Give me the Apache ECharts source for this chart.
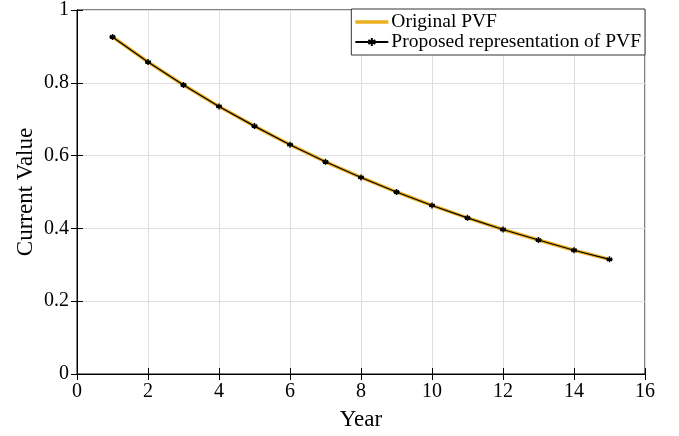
<!DOCTYPE html>
<html><head><meta charset="utf-8">
<script src="https://cdn.jsdelivr.net/npm/echarts@6/dist/echarts.min.js"></script>
<style>html,body{margin:0;padding:0;background:#fff}#c{width:679px;height:436px}</style>
</head><body><div id="c"></div>
<script>
const years = [1,2,3,4,5,6,7,8,9,10,11,12,13,14,15];
const originalPVF = [0.926,0.857,0.794,0.735,0.681,0.630,0.583,0.540,0.500,0.463,0.429,0.397,0.368,0.340,0.315];
const proposedPVF = [0.926,0.857,0.794,0.735,0.681,0.630,0.583,0.540,0.500,0.463,0.429,0.397,0.368,0.340,0.315];
const seriesNames = ['Original PVF','Proposed representation of PVF'];
const font = 'Liberation Serif';
const chart = echarts.init(document.getElementById('c'));
const star = 'path://M0,-1L0,1M-0.87,-0.5L0.87,0.5M-0.87,0.5L0.87,-0.5M-1,0L1,0';
chart.setOption({
  animation:false,
  grid:{left:77,right:34,top:9,bottom:62,show:true,borderColor:'#000',borderWidth:1,containLabel:false},
  legend:{
    right:34, top:9, orient:'vertical', itemGap:0, itemWidth:33, itemHeight:10,
    padding:[3,4,3,3], borderColor:'#333', borderWidth:1, backgroundColor:'#fff',
    textStyle:{fontFamily:font,fontSize:19.5,lineHeight:20,color:'#000',padding:[0,0,0,-2]},
    data:[{name:seriesNames[0],icon:'path://M0,0H36V4H0Z'},{name:seriesNames[1]}]
  },
  xAxis:[{
    type:'value', min:0, max:16, interval:2, name:'Year', nameLocation:'middle', nameGap:34,
    nameMoveOverlap:false,
    nameTextStyle:{fontFamily:font,fontSize:23,color:'#000'},
    axisLine:{show:true,lineStyle:{color:'#000'}},
    axisTick:{show:true,inside:true,length:6,lineStyle:{color:'#000'}},
    axisLabel:{fontFamily:font,fontSize:20,color:'#000',margin:8},
    splitLine:{show:true,lineStyle:{color:'#dedede'}}
  },{
    type:'value', position:'top', min:0, max:16, interval:2,
    axisLine:{show:true,lineStyle:{color:'#000'}},
    axisTick:{show:true,inside:true,length:6,lineStyle:{color:'#000'}},
    axisLabel:{show:false}, splitLine:{show:false}
  }],
  yAxis:[{
    type:'value', min:0, max:1, interval:0.2, name:'Current Value', nameLocation:'middle', nameGap:40,
    nameMoveOverlap:false,
    nameTextStyle:{fontFamily:font,fontSize:23,color:'#000'},
    axisLine:{show:true,lineStyle:{color:'#000'}},
    axisTick:{show:true,inside:true,length:6,lineStyle:{color:'#000'}},
    axisLabel:{fontFamily:font,fontSize:20,color:'#000',margin:8,formatter:v=>String(+v.toFixed(1))},
    splitLine:{show:true,lineStyle:{color:'#dedede'}}
  },{
    type:'value', position:'right', min:0, max:1, interval:0.2,
    axisLine:{show:true,lineStyle:{color:'#000'}},
    axisTick:{show:true,inside:true,length:6,lineStyle:{color:'#000'}},
    axisLabel:{show:false}, splitLine:{show:false}
  }],
  series:[{
    name:seriesNames[0], type:'line', data:years.map((y,i)=>[y,originalPVF[i]]),
    symbol:'none', color:'#EDB120', itemStyle:{color:'#EDB120'}, lineStyle:{width:3.5,color:'#EDB120'}
  },{
    name:seriesNames[1], type:'line', data:years.map((y,i)=>[y,proposedPVF[i]]),
    symbol:star, symbolSize:6, showSymbol:true, color:'#000',
    itemStyle:{color:'#000',borderColor:'#000',borderWidth:1.5},
    lineStyle:{width:1.2,color:'#000'}
  }]
});
</script></body></html>
